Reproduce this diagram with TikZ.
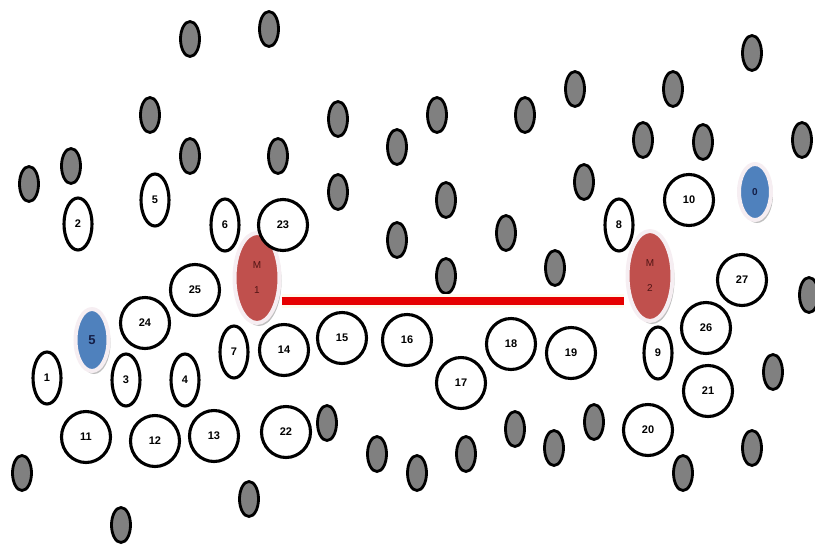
\documentclass[tikz,border=0pt]{standalone}
\usepackage{fontspec}
\setmainfont{Liberation Sans}
\usetikzlibrary{shapes.geometric,shadows}
\definecolor{dotgray}{RGB}{128,128,128}
\definecolor{mred}{RGB}{192,80,77}
\definecolor{mblue}{RGB}{79,129,189}
\definecolor{halo}{RGB}{246,238,242}
\definecolor{linered}{RGB}{230,0,0}
\definecolor{glowy}{RGB}{255,250,236}
\definecolor{mtext}{RGB}{80,20,20}
\tikzset{
  gdot/.style={ellipse, draw=black, line width=2.8pt, fill=dotgray, minimum width=19pt, minimum height=35pt, inner sep=0pt},
  wsmall/.style={ellipse, draw=black, line width=3.1pt, fill=white, minimum width=28pt, minimum height=52pt, inner sep=0pt, font=\fontsize{11}{11}\selectfont\bfseries},
  wbig/.style={ellipse, draw=black, line width=3.1pt, fill=white, minimum width=49pt, minimum height=51pt, inner sep=0pt, font=\fontsize{11}{11}\selectfont\bfseries},
  mnode/.style={ellipse, fill=mred, draw=halo, line width=4pt, minimum width=45pt, minimum height=90pt, inner sep=0pt, align=center, text=mtext, font=\fontsize{10}{25}\selectfont,
    drop shadow={shadow xshift=2pt, shadow yshift=-3pt, fill=black, opacity=0.25}},
  bnode/.style={ellipse, fill=mblue, draw=halo, line width=4pt, inner sep=0pt, text={rgb,255:red,20;green,30;blue,70},
    drop shadow={shadow xshift=2pt, shadow yshift=-3pt, fill=black, opacity=0.25}},
  mlink/.style={draw=linered, line width=8pt},
  mglow/.style={draw=glowy, line width=14pt}
}
\begin{document}
\begin{tikzpicture}[x=1pt,y=-1pt]
\useasboundingbox (0,0) rectangle (815,547);
% gray dots
\foreach \px/\py [count=\i] in {190/39,269/29,150/115,338/119,437/115,525/115,575/89,673/89,752/53,
  190/156,278/156,397/147,643/140,703/142,802/140,29/184,71/166,
  338/192,446/200,397/240,506/233,584/182,446/276,555/268,809/295,773/372,
  327/423,377/454,417/473,466/454,515/429,554/448,594/422,683/473,752/448,
  22/473,249/499,121/525}
  \node[gdot] (g\i) at (\px,\py) {};
% red nodes
\node[mnode] (m1) at (257,278) {M\\1};
\node[mnode] (m2) at (650,276) {M\\2};
% link between M1 and M2
\path[mglow] ([yshift=-23pt]m1.east) -- ([yshift=-25pt,xshift=-2pt]m2.west);
\path[mlink] ([yshift=-23pt]m1.east) -- ([yshift=-25pt,xshift=-2pt]m2.west);
% blue nodes
\node[bnode, minimum width=33pt, minimum height=62pt, font=\fontsize{13}{13}\selectfont\bfseries] (b5) at (92,340) {5};
\node[bnode, minimum width=32pt, minimum height=56pt, font=\fontsize{10}{10}\selectfont\bfseries] (b0) at (755,192) {0};
% small white nodes
\node[wsmall] (n1) at (47,378) {1};
\node[wsmall] (n2) at (78,224) {2};
\node[wsmall] (n3) at (126,380) {3};
\node[wsmall] (n4) at (185,380) {4};
\node[wsmall] (n5) at (155,200) {5};
\node[wsmall] (n6) at (225,225) {6};
\node[wsmall] (n7) at (234,352) {7};
\node[wsmall] (n8) at (619,225) {8};
\node[wsmall] (n9) at (658,353) {9};
% big white nodes
\node[wbig] (n10) at (689,200) {10};
\node[wbig] (n11) at (86,437) {11};
\node[wbig] (n12) at (155,441) {12};
\node[wbig] (n13) at (214,436) {13};
\node[wbig] (n14) at (284,350) {14};
\node[wbig] (n15) at (342,338) {15};
\node[wbig] (n16) at (407,340) {16};
\node[wbig] (n17) at (461,383) {17};
\node[wbig] (n18) at (511,344) {18};
\node[wbig] (n19) at (571,353) {19};
\node[wbig] (n20) at (648,430) {20};
\node[wbig] (n21) at (708,391) {21};
\node[wbig] (n22) at (286,432) {22};
\node[wbig] (n23) at (283,225) {23};
\node[wbig] (n24) at (145,323) {24};
\node[wbig] (n25) at (195,290) {25};
\node[wbig] (n26) at (706,328) {26};
\node[wbig] (n27) at (742,280) {27};
\end{tikzpicture}
\end{document}
